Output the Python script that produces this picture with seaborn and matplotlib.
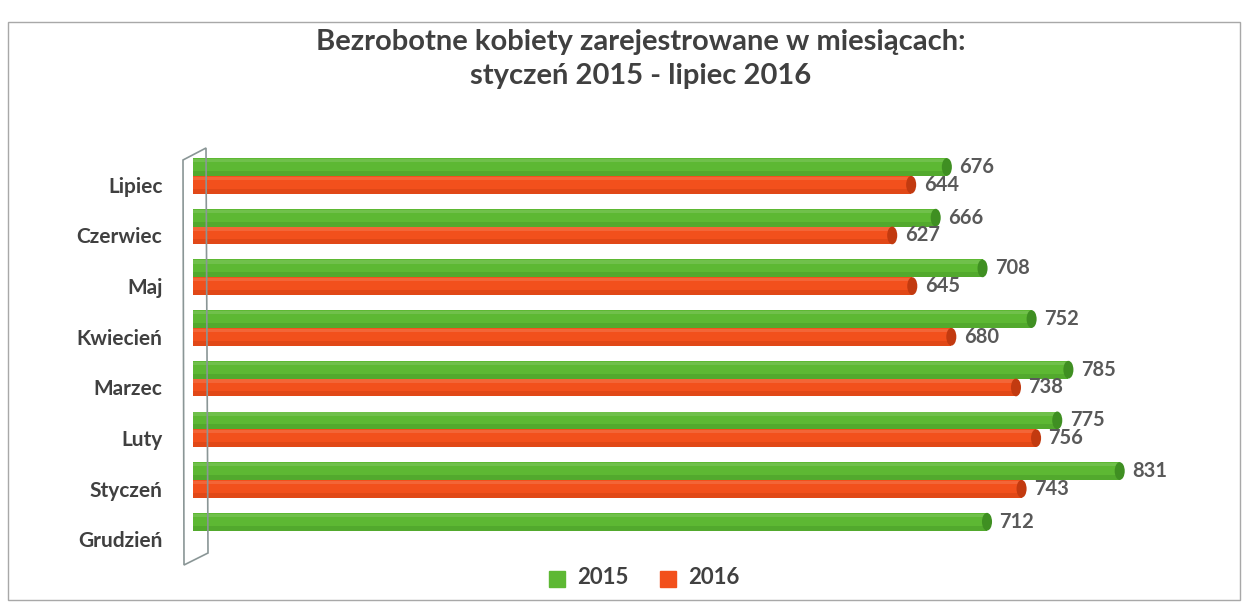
import numpy as np
import pandas as pd
import matplotlib.pyplot as plt
import seaborn as sns
from matplotlib.patches import Ellipse, Rectangle, Polygon
from matplotlib.lines import Line2D

# Data
months = ['Lipiec', 'Czerwiec', 'Maj', 'Kwiecień', 'Marzec', 'Luty', 'Styczeń', 'Grudzień']
years = ['2015', '2016']
values_2015 = [676, 666, 708, 752, 785, 775, 831, 712]
values_2016 = [644, 627, 645, 680, 738, 756, 743, np.nan]

palette = {'2015': '#5db833', '2016': '#f2501c'}
dark = {'2015': '#3f8f22', '2016': '#c23a10'}

df = pd.DataFrame({
    'miesiac': months * 2,
    'rok': [years[0]] * len(months) + [years[1]] * len(months),
    'liczba': values_2015 + values_2016,
})
df = df.dropna()

sns.set_theme(style='white')
plt.rcParams['font.family'] = ['Lato', 'DejaVu Sans']

W, H = 1251, 610
fig = plt.figure(figsize=(W / 100, H / 100), dpi=100)
ax = fig.add_axes([193 / W, 1 - 561 / H, (1200 - 193) / W, 413 / H])

sns.barplot(data=df, x='liczba', y='miesiac', hue='rok', order=months, hue_order=years,
            orient='h', palette=palette, width=0.7, saturation=1, errorbar=None,
            legend=False, ax=ax)

# cylinder look: darker lower band and end cap
for cont, yr in zip(ax.containers, years):
    for p in cont.patches:
        x0, y0 = p.get_x(), p.get_y()
        w, h = p.get_width(), p.get_height()
        p.set_edgecolor('none')
        ax.add_patch(Rectangle((x0, y0 + h * 0.72), w, h * 0.28, color=dark[yr], alpha=0.35, lw=0))
        ax.add_patch(Rectangle((x0, y0 + h * 0.05), w, h * 0.18, color='white', alpha=0.12, lw=0))
        ax.add_patch(Ellipse((x0 + w, y0 + h / 2), 9, h, color=dark[yr], lw=0))
    ax.bar_label(cont, padding=9, fontsize=14.5, fontweight='bold', color='#595959')

ax.set_xlim(0, 903)
ax.set_ylim(7.6, -0.55)
ax.set_yticks(np.arange(len(months)) + 0.175, months)
ax.set_xticks([])
ax.set_xlabel('')
ax.set_ylabel('')
ax.tick_params(axis='y', length=0, pad=22, labelsize=15, labelcolor='#404040')
for lab in ax.get_yticklabels():
    lab.set_fontweight('bold')
sns.despine(ax=ax, left=True, bottom=True)

# 3D wall at the left
wall = [(183, 160), (206, 148), (208, 553), (184, 565)]
fig.add_artist(Polygon([(x / W, 1 - y / H) for x, y in wall], closed=True, fill=False,
                       edgecolor='#8a9696', lw=1.2, transform=fig.transFigure))

# outer frame
fig.add_artist(Rectangle((8 / W, 1 - 600 / H), (1240 - 8) / W, (600 - 22) / H, fill=False,
                         edgecolor='#a8a8a8', lw=1, transform=fig.transFigure))

# title
fig.text(0.512, 1 - 42 / H, 'Bezrobotne kobiety zarejestrowane w miesiącach:', ha='center', va='center',
         fontsize=21, fontweight='bold', color='#404040')
fig.text(0.512, 1 - 76 / H, 'styczeń 2015 - lipiec 2016', ha='center', va='center',
         fontsize=21, fontweight='bold', color='#404040')

# legend
handles = [Line2D([], [], marker='s', ls='', markersize=11, color=palette[y]) for y in years]
leg = fig.legend(handles, years, loc='center', bbox_to_anchor=(0.512, 1 - 578 / H), ncol=2,
                 frameon=False, handletextpad=0.3, columnspacing=1.6)
for t in leg.get_texts():
    t.set_fontsize(16)
    t.set_fontweight('bold')
    t.set_color('#404040')

fig.savefig('out.png', dpi=100, facecolor='white')
